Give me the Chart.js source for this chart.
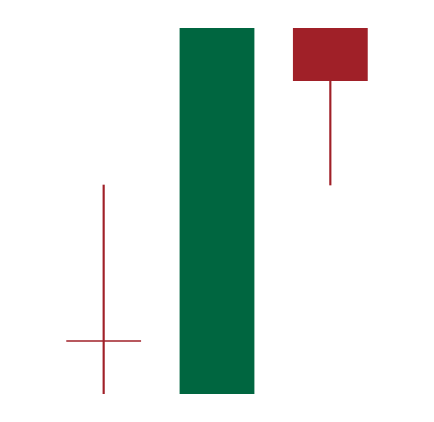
<!DOCTYPE html>
<html><head><meta charset="utf-8">
<script src="https://cdn.jsdelivr.net/npm/chart.js@4/dist/chart.umd.min.js"></script>
<style>html,body{margin:0;padding:0;background:#fff}#wrap{width:434px;height:422px}</style>
</head><body><div id="wrap"><canvas id="c" width="434" height="422"></canvas></div>
<script>
const categories = ['1', '2', '3'];
const openValues = [14.3, 0, 100];
const closeValues = [14.3, 100, 85.5];
const highValues = [57.1, 100, 100];
const lowValues = [0, 0, 57.1];

const up = 'rgb(0,102,64)';
const down = 'rgb(160,32,40)';
const colors = categories.map((_, i) => closeValues[i] > openValues[i] ? up : down);

new Chart(document.getElementById('c'), {
  type: 'bar',
  data: {
    labels: categories,
    datasets: [
      {
        data: categories.map((_, i) => [lowValues[i], highValues[i]]),
        backgroundColor: colors,
        barThickness: 1.5,
        grouped: false,
        order: 2
      },
      {
        data: categories.map((_, i) => [openValues[i], closeValues[i]]),
        backgroundColor: colors,
        categoryPercentage: 1,
        barPercentage: 0.66,
        minBarLength: 1.5,
        grouped: false,
        order: 1
      }
    ]
  },
  options: {
    responsive: false,
    animation: false,
    layout: { padding: { left: 47, right: 47, top: 28, bottom: 28 } },
    plugins: { legend: { display: false }, tooltip: { enabled: false } },
    scales: {
      x: { display: false },
      y: { display: false, min: 0, max: 100 }
    }
  }
});
</script></body></html>
